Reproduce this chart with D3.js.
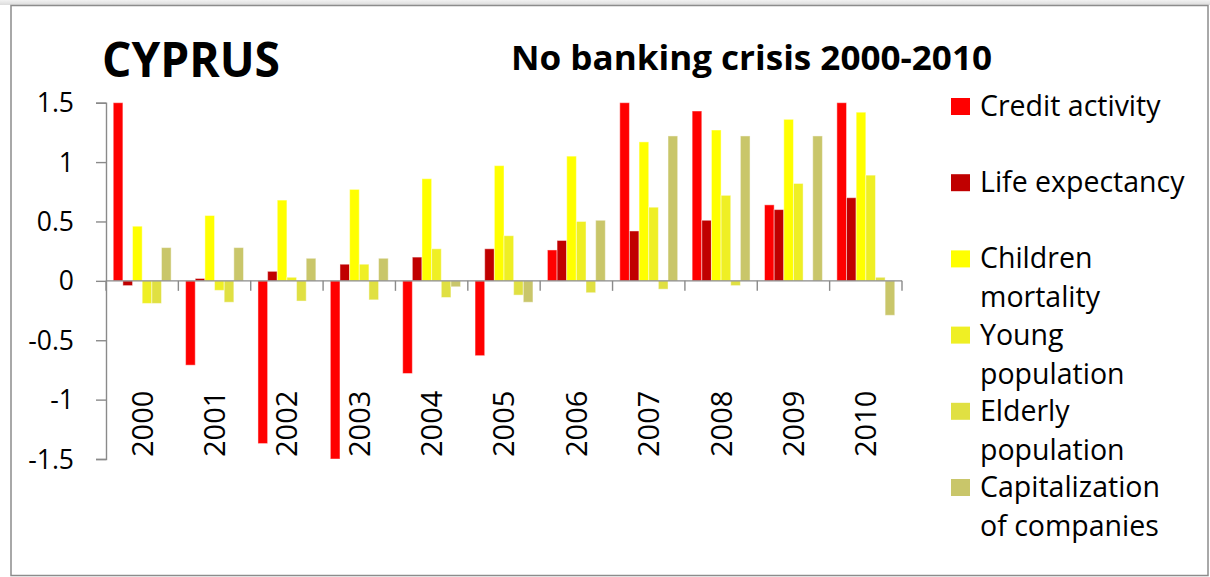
<!DOCTYPE html>
<html>
<head>
<meta charset="utf-8">
<script src="https://cdn.jsdelivr.net/npm/d3@7"></script>
<style>
  html, body { margin: 0; padding: 0; background: #fff; }
  svg { display: block; }
  text { font-family: "Open Sans", "Liberation Sans", sans-serif; fill: #000; }
</style>
</head>
<body>
<svg id="chart" width="1210" height="577"></svg>
<script>
// Indicator scores for Cyprus, 2000-2010
const years = ["2000","2001","2002","2003","2004","2005","2006","2007","2008","2009","2010"];
const seriesNames = ["Credit activity","Life expectancy","Children mortality","Young population","Elderly population","Capitalization of companies"];
const legendLines = [["Credit activity"],["Life expectancy"],["Children","mortality"],["Young","population"],["Elderly","population"],["Capitalization","of companies"]];
const seriesColors = ["#ff0000","#c00000","#ffff00","#efef24","#e0e042","#c9c66a"];

const creditActivity    = [1.5, -0.71, -1.37, -1.5, -0.78, -0.63, 0.26, 1.5, 1.43, 0.64, 1.5];
const lifeExpectancy    = [-0.04, 0.02, 0.08, 0.14, 0.20, 0.27, 0.34, 0.42, 0.51, 0.60, 0.70];
const childrenMortality = [0.46, 0.55, 0.68, 0.77, 0.86, 0.97, 1.05, 1.17, 1.27, 1.36, 1.42];
const youngPopulation   = [-0.19, -0.08, 0.03, 0.14, 0.27, 0.38, 0.50, 0.62, 0.72, 0.82, 0.89];
const elderlyPopulation = [-0.19, -0.18, -0.17, -0.16, -0.14, -0.12, -0.10, -0.07, -0.04, 0.0, 0.03];
const capitalization    = [0.28, 0.28, 0.19, 0.19, -0.05, -0.18, 0.51, 1.22, 1.22, 1.22, -0.29];

const yTicks = [-1.5, -1, -0.5, 0, 0.5, 1, 1.5];
const yTickLabels = ["-1.5", "-1", "-0.5", "0", "0.5", "1", "1.5"];

const seriesValues = [creditActivity, lifeExpectancy, childrenMortality, youngPopulation, elderlyPopulation, capitalization];

const svg = d3.select("#chart");

// frame and top shading
const defs = svg.append("defs");
const grad = defs.append("linearGradient").attr("id", "topShade").attr("x1", 0).attr("y1", 0).attr("x2", 0).attr("y2", 1);
grad.append("stop").attr("offset", "0%").attr("stop-color", "#f2f2f2");
grad.append("stop").attr("offset", "100%").attr("stop-color", "#dcdcdc");
svg.append("rect").attr("x", 0).attr("y", 0).attr("width", 1210).attr("height", 5).attr("fill", "url(#topShade)");
svg.append("rect").attr("x", 11).attr("y", 5.5).attr("width", 1197).attr("height", 570)
  .attr("fill", "#fff").attr("stroke", "#8c8c8c").attr("stroke-width", 1.5);

// titles
svg.append("text").attr("x", 102).attr("y", 77).attr("font-size", 48).attr("font-weight", 700)
  .attr("textLength", 178).attr("lengthAdjust", "spacingAndGlyphs").text("CYPRUS");
svg.append("text").attr("x", 511).attr("y", 70).attr("font-size", 34).attr("font-weight", 700)
  .attr("textLength", 481).attr("lengthAdjust", "spacingAndGlyphs").text("No banking crisis 2000-2010");

// scales
const plotLeft = 106, plotRight = 902, plotTop = 102.7, plotBottom = 459;
const x0 = d3.scaleBand().domain(years).range([plotLeft, plotRight]).paddingInner(0).paddingOuter(0);
const groupPad = x0.bandwidth() * 0.1;
const x1 = d3.scaleBand().domain(d3.range(seriesNames.length))
  .range([groupPad, x0.bandwidth() - groupPad]).padding(0);
const y = d3.scaleLinear().domain([-1.5, 1.5]).range([plotBottom, plotTop]);

// bars
const barsG = svg.append("g");
seriesValues.forEach((vals, si) => {
  barsG.append("g").selectAll("rect").data(vals).join("rect")
    .attr("x", (d, i) => x0(years[i]) + x1(si))
    .attr("width", x1.bandwidth())
    .attr("y", d => y(Math.max(0, d)))
    .attr("height", d => Math.abs(y(d) - y(0)))
    .attr("fill", seriesColors[si])
    .attr("stroke", "rgba(255,255,255,0.45)")
    .attr("stroke-width", 1);
});

const axisColor = "#8a8a8a";

// value axis
const yAxis = svg.append("g").attr("transform", `translate(${plotLeft},0)`)
  .call(d3.axisLeft(y).tickValues(yTicks).tickSize(10).tickPadding(22)
    .tickFormat((d, i) => yTickLabels[i]));
yAxis.select(".domain").attr("stroke", axisColor).attr("stroke-width", 1.4);
yAxis.selectAll(".tick line").attr("stroke", axisColor).attr("stroke-width", 1.4);
yAxis.selectAll(".tick text").attr("font-size", 26.5).attr("font-family", "Open Sans").attr("fill", "#000").attr("dy", "0.34em");

// category axis along zero
const zeroY = y(0);
const xAxisG = svg.append("g");
xAxisG.append("line").attr("x1", plotLeft).attr("x2", plotRight).attr("y1", zeroY).attr("y2", zeroY)
  .attr("stroke", axisColor).attr("stroke-width", 1.4);
const boundaries = years.map(yr => x0(yr)).concat([plotRight]);
xAxisG.selectAll("line.tk").data(boundaries).join("line").attr("class", "tk")
  .attr("x1", d => d).attr("x2", d => d).attr("y1", zeroY).attr("y2", zeroY + 10)
  .attr("stroke", axisColor).attr("stroke-width", 1.4);

// year labels, rotated, sitting at the bottom of the plot
svg.append("g").selectAll("text").data(years).join("text")
  .attr("transform", d => `translate(${x0(d) + x0.bandwidth() / 2},${plotBottom - 2}) rotate(-90)`)
  .attr("text-anchor", "start").attr("dy", "0.36em").attr("font-size", 29)
  .text(d => d);

// legend
const legend = svg.append("g").attr("transform", "translate(951,98)");
legendLines.forEach((lines, i) => {
  const g = legend.append("g").attr("transform", `translate(0,${i * 76.2})`);
  g.append("rect").attr("width", 19).attr("height", 17).attr("fill", seriesColors[i]);
  lines.forEach((ln, j) => {
    g.append("text").attr("x", 29).attr("y", 18 + j * 39).attr("font-size", 28.5).text(ln);
  });
});
</script>
</body>
</html>
